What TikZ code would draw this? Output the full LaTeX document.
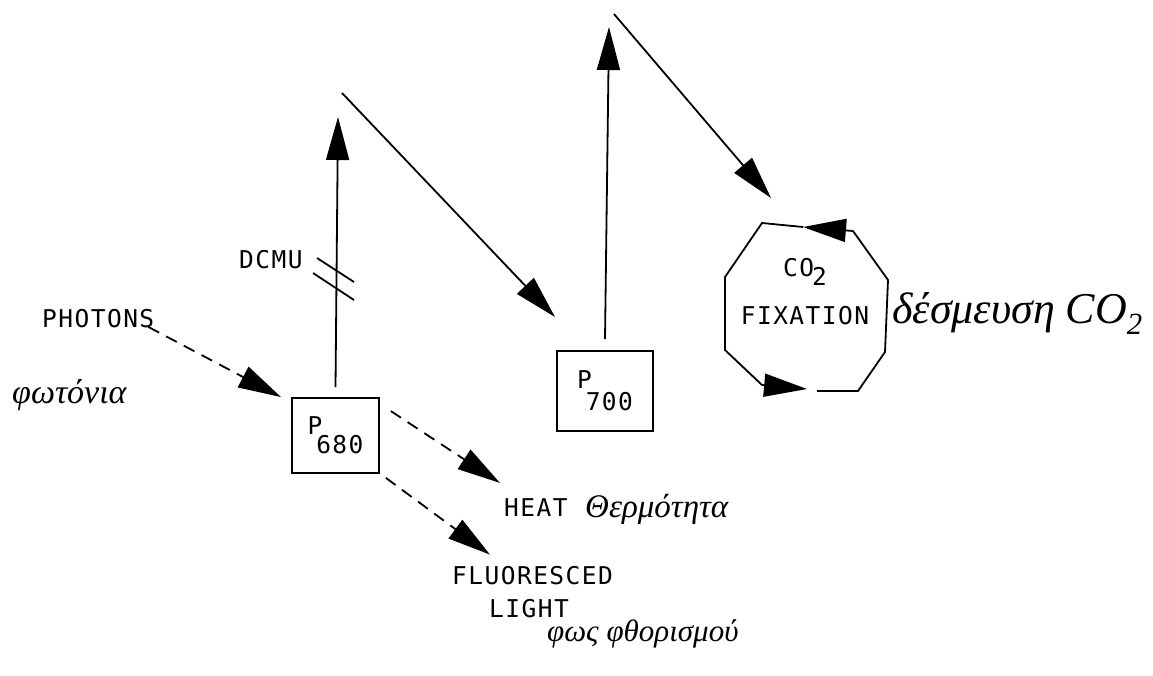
\documentclass[tikz,border=0pt]{standalone}
\usepackage{fontspec}
\usetikzlibrary{arrows.meta}
\newfontfamily\plotfont[LetterSpace=6]{DejaVu Sans Mono}
\newfontfamily\handfont{Liberation Serif}
\begin{document}
\begin{tikzpicture}[x=1pt,y=-1pt,
  ln/.style={line width=1.8pt},
  tip/.style={-{Triangle[length=43pt,width=23pt]}},
  dsh/.style={ln,dash pattern=on 12pt off 8pt},
  lbl/.style={font=\plotfont\fontsize{24.5}{34}\selectfont, inner sep=0pt},
  pbox/.style={draw,ln,inner sep=0pt,font=\plotfont\fontsize{24.5}{34}\selectfont},
  hand/.style={font=\handfont\itshape\fontsize{#1}{#1}\selectfont, inner sep=0pt},
  hand/.default=32]
\useasboundingbox (0,0) rectangle (1153,675);

% boxes and labels
\node[pbox, minimum width=87pt, minimum height=75pt] (p680) at (335.5,435.5) {P\kern-6pt\raisebox{-19pt}{680}};
\node[pbox, minimum width=96pt, minimum height=80pt] (p700) at (605,391) {P\kern-6pt\raisebox{-22pt}{700}};
\node[lbl, align=center] (fix) at (805,292) {CO\kern-2pt\raisebox{-9pt}{2}\\[14pt]FIXATION};

\node[lbl, anchor=base west] (photons) at (42,327) {PHOTONS};
\node[lbl, anchor=base west] (dcmu) at (239,268) {DCMU};
\node[lbl, anchor=base west] (heat) at (504,516) {HEAT};
\node[lbl, anchor=base west] (fluor) at (452,584) {FLUORESCED};
\node[lbl, anchor=base west] (light) at (489,617) {LIGHT};

\node[hand=34, anchor=base west] (photgr) at (12,403) {φωτόνια};
\node[hand=33, anchor=base west] (heatgr) at (585,517) {Θερμότητα};
\node[hand=31, anchor=base west] (fluorgr) at (547,641) {φως φθορισμού};
\node[hand=44, anchor=base west] (fixgr) at (892,323) {δέσμευση CO\textsubscript{2}};

% vertical transfers
\coordinate (t1) at (338,117);
\draw[ln,tip] ([yshift=10pt]p680.north) -- (t1);
\coordinate (t2) at (609,27);
\draw[ln,tip] ([yshift=11pt]p700.north) -- (t2);

% DCMU block marks
\draw[ln] (317,258) -- (354,282);
\draw[ln] (313,273) -- (354,300);

% diagonal transfers
\coordinate (d1a) at (342,93);
\coordinate (d1b) at (555,317);
\draw[ln,tip] (d1a) -- (d1b);
\coordinate (d2a) at (614,14);
\coordinate (d2b) at (771,198);
\draw[ln,tip] (d2a) -- (d2b);

% dashed arrows
\draw[dsh,tip] ([xshift=-6pt]photons.base east) -- ([xshift=-10pt]p680.north west);
\draw[dsh,tip] ([shift={(11pt,-14pt)}]p680.north east) -- ([shift={(-4pt,15pt)}]heat.north west);
\draw[dsh,tip] ([shift={(6pt,-4pt)}]p680.south east) -- ([shift={(38pt,11pt)}]fluor.north west);

% CO2 fixation cycle
\coordinate (oA) at (762,223);
\coordinate (oB) at (853,231);
\coordinate (oC) at (888,280);
\coordinate (oD) at (885,352);
\coordinate (oE) at (858,391);
\coordinate (oF) at (762,385);
\coordinate (oG) at (725,350);
\coordinate (oH) at (725,277);
\coordinate (oT) at (803,227);
\coordinate (oU) at (807,389);
\coordinate (oV) at (817,391);
\draw[ln,tip] (oB) -- (oT);
\draw[ln] (oT) -- (oA) -- (oH) -- (oG) -- (oF);
\draw[ln,tip] (oF) -- (oU);
\draw[ln] (oV) -- (oE) -- (oD) -- (oC) -- (oB);
\end{tikzpicture}
\end{document}
